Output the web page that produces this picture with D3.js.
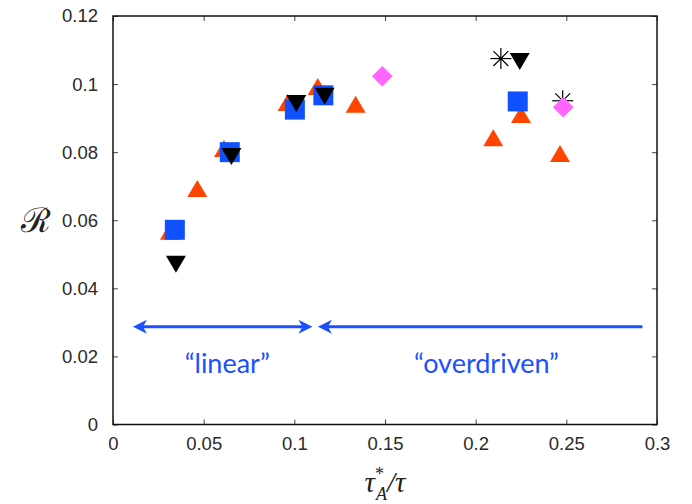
<!DOCTYPE html>
<html>
<head>
<meta charset="utf-8">
<script src="https://cdn.jsdelivr.net/npm/d3@7"></script>
<style>
  html, body { margin: 0; padding: 0; background: #fff; }
  svg { display: block; }
</style>
</head>
<body>
<div id="chart"></div>
<script>
// Reconnection rate R versus normalised Alfvén time, several run families
const xTicks = [0, 0.05, 0.1, 0.15, 0.2, 0.25, 0.3];
const xTickLabels = ["0", "0.05", "0.1", "0.15", "0.2", "0.25", "0.3"];
const yTicks = [0, 0.02, 0.04, 0.06, 0.08, 0.1, 0.12];
const yTickLabels = ["0", "0.02", "0.04", "0.06", "0.08", "0.1", "0.12"];

const triX = [0.0314, 0.0465, 0.0612, 0.0963, 0.1129, 0.1338, 0.2097, 0.2250, 0.2465];
const triY = [0.0568, 0.0693, 0.0811, 0.0946, 0.0993, 0.0941, 0.0842, 0.0911, 0.0796];
const sqX = [0.0341, 0.0644, 0.1003, 0.1160, 0.2232];
const sqY = [0.0572, 0.0800, 0.0925, 0.0967, 0.0949];
const downX = [0.0347, 0.0653, 0.1011, 0.1167, 0.2243];
const downY = [0.0471, 0.0787, 0.0943, 0.0964, 0.1066];
const starX = [0.2139, 0.2480];
const starY = [0.1075, 0.0951];
const diaX = [0.1485, 0.2483];
const diaY = [0.1023, 0.0932];

// regime arrows
const regimeArrows = [
  { x0: 0.011, x1: 0.110, y: 0.0287, headStart: true, headEnd: true },
  { x0: 0.113, x1: 0.292, y: 0.0287, headStart: true, headEnd: false }
];
const regimeLabels = [
  { text: "\u201Clinear\u201D", x: 0.063, y: 0.0150 },
  { text: "\u201Coverdriven\u201D", x: 0.206, y: 0.0150 }
];

const W = 692, H = 504;
const margin = { top: 16, right: 35, bottom: 79.5, left: 113 };
const iw = W - margin.left - margin.right;
const ih = H - margin.top - margin.bottom;

const svg = d3.select("#chart").append("svg")
  .attr("width", W).attr("height", H);
const g = svg.append("g").attr("transform", `translate(${margin.left},${margin.top})`);

const x = d3.scaleLinear().domain([0, 0.3]).range([0, iw]);
const y = d3.scaleLinear().domain([0, 0.12]).range([ih, 0]);

const tickFont = "'Liberation Sans', Arial, Helvetica, sans-serif";
const tickColor = "#2a2a2a";
const tickLen = 5;

// axes: inward ticks on all four sides
const xAxisB = d3.axisBottom(x).tickValues(xTicks).tickSize(-tickLen).tickPadding(12)
  .tickFormat((d, i) => xTickLabels[i]);
const xAxisT = d3.axisTop(x).tickValues(xTicks).tickSize(-tickLen).tickFormat("");
const yAxisL = d3.axisLeft(y).tickValues(yTicks).tickSize(-tickLen).tickPadding(15)
  .tickFormat((d, i) => yTickLabels[i]);
const yAxisR = d3.axisRight(y).tickValues(yTicks).tickSize(-tickLen).tickFormat("");

function styleAxis(sel) {
  sel.select(".domain").remove();
  sel.selectAll(".tick line").attr("stroke", "#444").attr("stroke-width", 1);
  sel.selectAll(".tick text")
    .attr("fill", tickColor)
    .style("font-family", tickFont)
    .style("font-size", "18.5px");
}
g.append("g").attr("transform", `translate(0,${ih})`).call(xAxisB).call(styleAxis);
g.append("g").call(xAxisT).call(styleAxis);
g.append("g").call(yAxisL).call(styleAxis);
g.append("g").attr("transform", `translate(${iw},0)`).call(yAxisR).call(styleAxis);

// frame
g.append("rect").attr("x", 0).attr("y", 0).attr("width", iw).attr("height", ih)
  .attr("fill", "none").attr("stroke", "#111").attr("stroke-width", 1.5);

// marker shapes
const triW = 20, triH = 17;
const upTri = `M0,${-triH / 2}L${triW / 2},${triH / 2}L${-triW / 2},${triH / 2}Z`;
const downTri = `M0,${triH / 2}L${triW / 2},${-triH / 2}L${-triW / 2},${-triH / 2}Z`;
const sq = 10;
const squarePath = `M${-sq},${-sq}H${sq}V${sq}H${-sq}Z`;
const dr = 10.3;
const diamondPath = `M0,${-dr}L${dr},0L0,${dr}L${-dr},0Z`;

function zip(xs, ys) { return xs.map((v, i) => ({ x: v, y: ys[i] })); }

const marks = g.append("g");

marks.selectAll(".tri").data(zip(triX, triY)).join("path")
  .attr("class", "tri")
  .attr("d", upTri)
  .attr("transform", d => `translate(${x(d.x)},${y(d.y)})`)
  .attr("fill", "#ff4500");

marks.selectAll(".sq").data(zip(sqX, sqY)).join("path")
  .attr("class", "sq")
  .attr("d", squarePath)
  .attr("transform", d => `translate(${x(d.x)},${y(d.y)})`)
  .attr("fill", "#0f50ff");

marks.selectAll(".down").data(zip(downX, downY)).join("path")
  .attr("class", "down")
  .attr("d", downTri)
  .attr("transform", d => `translate(${x(d.x)},${y(d.y)})`)
  .attr("fill", "#000");

const starR = 10.5;
const starG = marks.selectAll(".star").data(zip(starX, starY)).join("g")
  .attr("class", "star")
  .attr("transform", d => `translate(${x(d.x)},${y(d.y)})`);
[0, 45, 90, 135].forEach(a => {
  const r = a * Math.PI / 180;
  starG.append("line")
    .attr("x1", -starR * Math.cos(r)).attr("y1", -starR * Math.sin(r))
    .attr("x2", starR * Math.cos(r)).attr("y2", starR * Math.sin(r))
    .attr("stroke", "#000").attr("stroke-width", 1.2);
});
starG.append("circle").attr("r", 1.6).attr("fill", "#000");

marks.selectAll(".dia").data(zip(diaX, diaY)).join("path")
  .attr("class", "dia")
  .attr("d", diamondPath)
  .attr("transform", d => `translate(${x(d.x)},${y(d.y)})`)
  .attr("fill", "#ff66ff");

// regime annotations
const annColor = "#1a50ff";
const headL = 14, headW = 7;
const ann = g.append("g");
regimeArrows.forEach(a => {
  const xa = x(a.x0), xb = x(a.x1), yy = y(a.y);
  ann.append("line")
    .attr("x1", xa + (a.headStart ? 6 : 0)).attr("x2", xb - (a.headEnd ? 6 : 0))
    .attr("y1", yy).attr("y2", yy)
    .attr("stroke", annColor).attr("stroke-width", 3);
  if (a.headStart) {
    ann.append("path")
      .attr("d", `M${xa},${yy}L${xa + headL},${yy - headW}L${xa + headL - 4},${yy}L${xa + headL},${yy + headW}Z`)
      .attr("fill", annColor);
  }
  if (a.headEnd) {
    ann.append("path")
      .attr("d", `M${xb},${yy}L${xb - headL},${yy - headW}L${xb - headL + 4},${yy}L${xb - headL},${yy + headW}Z`)
      .attr("fill", annColor);
  }
});
ann.selectAll(".regime").data(regimeLabels).join("text")
  .attr("class", "regime")
  .attr("x", d => x(d.x)).attr("y", d => y(d.y))
  .attr("text-anchor", "middle")
  .attr("fill", annColor)
  .style("font-family", "Lato, 'Open Sans', sans-serif")
  .style("font-size", "27px")
  .text(d => d.text);

// axis titles
svg.append("text")
  .attr("x", 36).attr("y", margin.top + y(0.06))
  .attr("text-anchor", "middle").attr("dominant-baseline", "central")
  .attr("fill", "#222")
  .style("font-family", "'DejaVu Serif', 'Liberation Serif', serif")
  .style("font-size", "34px")
  .text("\u211B");

const xt = svg.append("text")
  .attr("x", margin.left + iw / 2).attr("y", 492)
  .attr("text-anchor", "middle")
  .attr("fill", "#222")
  .style("font-family", "'Liberation Serif', 'DejaVu Serif', serif")
  .style("font-style", "italic")
  .style("font-size", "29px");
xt.append("tspan").text("\u03C4");
xt.append("tspan").attr("dy", -12).style("font-size", "18px").style("font-style", "normal").text("*");
xt.append("tspan").attr("dx", -8).attr("dy", 20).style("font-size", "18px").text("A");
xt.append("tspan").attr("dy", -8).text("/\u03C4");
</script>
</body>
</html>
